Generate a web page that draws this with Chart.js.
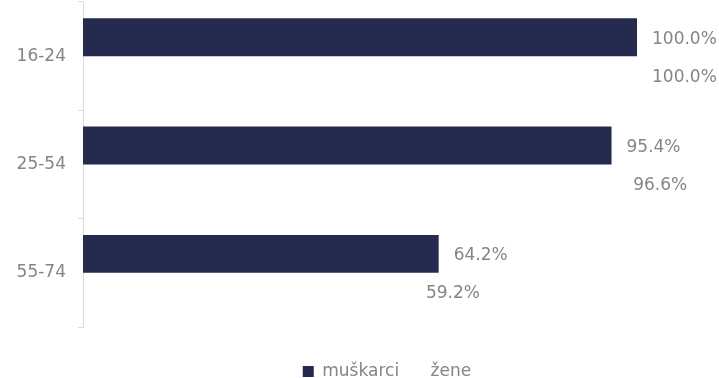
<!DOCTYPE html>
<html>
<head>
<meta charset="utf-8">
<script src="https://cdn.jsdelivr.net/npm/chart.js@4/dist/chart.umd.min.js"></script>
<style>
  html, body { margin: 0; padding: 0; background: #fff; }
  #wrap { width: 719px; height: 378px; }
</style>
</head>
<body>
<div id="wrap"><canvas id="barChart"></canvas></div>
<script>
// podaci
const categories = ['16-24', '25-54', '55-74'];
const muskarci = [100.0, 95.4, 64.2];
const zene = [100.0, 96.6, 59.2];
const seriesNames = ['muškarci', 'žene'];

const textColor = '#858585';
const fontFamily = '"DejaVu Sans", sans-serif';

// oznake vrijednosti desno od stupca
const valueLabels = {
    id: 'valueLabels',
    afterDatasetsDraw(chart) {
        const ctx = chart.ctx;
        ctx.save();
        ctx.font = '17px ' + fontFamily;
        ctx.fillStyle = textColor;
        ctx.textAlign = 'left';
        ctx.textBaseline = 'middle';
        chart.data.datasets.forEach((ds, i) => {
            chart.getDatasetMeta(i).data.forEach((bar, j) => {
                ctx.fillText(ds.data[j].toFixed(1) + '%', bar.x + 15, bar.y + 2);
            });
        });
        ctx.restore();
    }
};

new Chart(document.getElementById('barChart'), {
    type: 'bar',
    data: {
        labels: categories,
        datasets: [{
            label: seriesNames[0],
            data: muskarci,
            backgroundColor: '#252a4f',
            borderWidth: 0
        }, {
            // žene: stupci su bijeli (nevidljivi), vide se samo oznake
            label: seriesNames[1],
            data: zene,
            backgroundColor: 'rgba(255, 255, 255, 0)',
            borderColor: 'rgba(255, 255, 255, 0)',
            borderWidth: 0
        }]
    },
    options: {
        indexAxis: 'y',
        responsive: true,
        maintainAspectRatio: false,
        animation: false,
        categoryPercentage: 0.7,
        barPercentage: 1.0,
        layout: {
            padding: { top: 2, left: 16, right: -39, bottom: -12 }
        },
        scales: {
            x: {
                min: 0,
                max: 114.8,
                grid: { display: false },
                border: { display: false },
                ticks: { display: false },
                afterFit: scale => { scale.height = 24; }
            },
            y: {
                grid: {
                    drawOnChartArea: false,
                    color: '#dcdcdc',
                    tickLength: 5
                },
                border: { color: '#dcdcdc' },
                ticks: {
                    color: textColor,
                    padding: 12,
                    font: { family: fontFamily, size: 17 }
                },
                afterFit: scale => {
                    scale.width = 67;
                    scale.paddingTop = 0;
                    scale.paddingBottom = 0;
                }
            }
        },
        plugins: {
            legend: {
                position: 'bottom',
                labels: {
                    color: textColor,
                    boxWidth: 11,
                    boxHeight: 11,
                    padding: 12,
                    font: { family: fontFamily, size: 17 }
                }
            },
            tooltip: { enabled: false }
        }
    },
    plugins: [valueLabels]
});
</script>
</body>
</html>
